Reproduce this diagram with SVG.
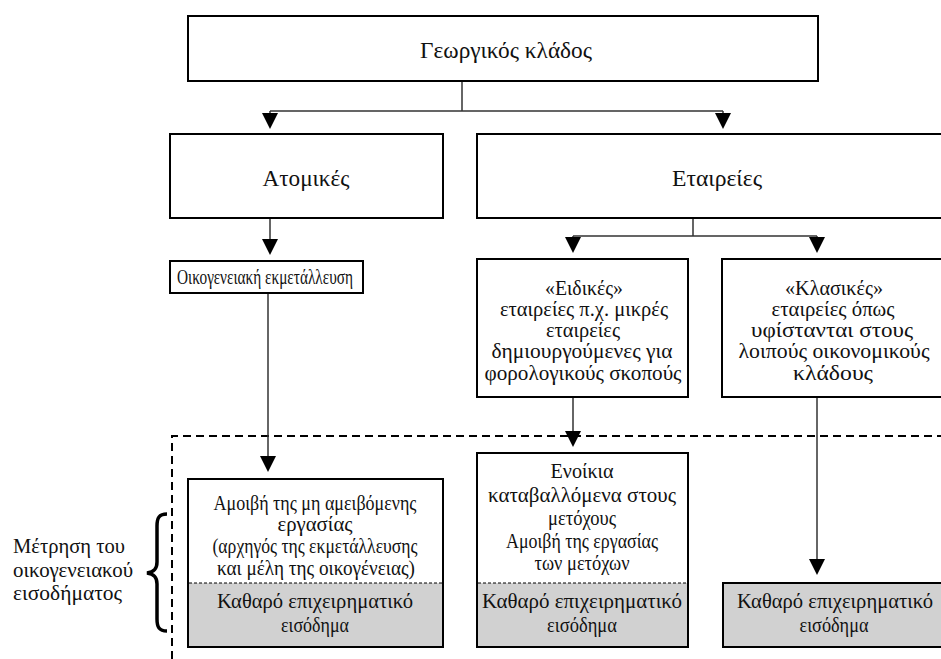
<svg xmlns="http://www.w3.org/2000/svg" width="941" height="659" viewBox="0 0 941 659">
<style>
  .box { fill: #ffffff; stroke: #000000; stroke-width: 2; }
  .grey { fill: #d1d1d1; stroke: none; }
  .sep { stroke: #000000; stroke-width: 1; stroke-dasharray: 3 2; fill: none; }
  .conn { fill: none; stroke: #333333; stroke-width: 1.5; }
  .head { fill: #000000; }
  .zone { fill: none; stroke: #000000; stroke-width: 2; stroke-dasharray: 8 5; }
  .brace { fill: none; stroke: #000000; stroke-width: 3.5; }
  text { font-family: "Liberation Serif", "Times New Roman", serif; font-size: 20px; fill: #111111; text-anchor: middle; }
  .big { font-size: 23px; }
  .left { text-anchor: start; }
</style>
<rect width="941" height="659" fill="#ffffff"/>

<g id="zone">
  <path class="zone" d="M172,659 V436 H941"/>
</g>

<g id="connectors">
  <path class="conn" d="M462,81 V111"/>
  <path class="conn" d="M270,111 H723 M270,111 V114 M723,111 V114"/>
  <path class="head" d="M262,113 L278,113 L270,129 Z"/>
  <path class="head" d="M715,113 L731,113 L723,129 Z"/>

  <path class="conn" d="M270,218 V240"/>
  <path class="head" d="M262,239 L278,239 L270,255 Z"/>

  <path class="conn" d="M693,218 V236 M573,236 H817 M573,236 V238 M817,236 V238"/>
  <path class="head" d="M565,237 L581,237 L573,253 Z"/>
  <path class="head" d="M809,237 L825,237 L817,253 Z"/>

  <path class="conn" d="M268,293 V458"/>
  <path class="head" d="M260,456 L276,456 L268,472 Z"/>

  <path class="conn" d="M573,397 V432"/>
  <path class="head" d="M565,431 L581,431 L573,447 Z"/>

  <path class="conn" d="M817,397 V560"/>
  <path class="head" d="M809,559 L825,559 L817,575 Z"/>
</g>

<g id="n-georgikos">
  <rect class="box" x="188" y="16" width="630" height="65"/>
  <text class="big" x="506" y="58" textLength="172" lengthAdjust="spacingAndGlyphs">Γεωργικός κλάδος</text>
</g>

<g id="n-atomikes">
  <rect class="box" x="170" y="134" width="273" height="84"/>
  <text class="big" x="306" y="186" textLength="87" lengthAdjust="spacingAndGlyphs">Ατομικές</text>
</g>

<g id="n-etaireies">
  <rect class="box" x="477" y="134" width="480" height="84"/>
  <text class="big" x="717" y="186" textLength="90" lengthAdjust="spacingAndGlyphs">Εταιρείες</text>
</g>

<g id="n-oikogeneiaki">
  <rect class="box" x="170" y="261" width="193" height="32"/>
  <text x="265" y="284" font-size="18" textLength="176" lengthAdjust="spacingAndGlyphs">Οικογενειακή εκμετάλλευση</text>
</g>

<g id="n-eidikes">
  <rect class="box" x="477" y="259" width="211" height="138"/>
  <text x="584" y="295" textLength="78" lengthAdjust="spacingAndGlyphs">«Ειδικές»</text>
  <text x="584" y="316" textLength="168" lengthAdjust="spacingAndGlyphs">εταιρείες π.χ. μικρές</text>
  <text x="583" y="337" textLength="74" lengthAdjust="spacingAndGlyphs">εταιρείες</text>
  <text x="582" y="358" textLength="181" lengthAdjust="spacingAndGlyphs">δημιουργούμενες για</text>
  <text x="583" y="380" textLength="197" lengthAdjust="spacingAndGlyphs">φορολογικούς σκοπούς</text>
</g>

<g id="n-klasikes">
  <rect class="box" x="722" y="259" width="240" height="138"/>
  <text x="834" y="295" textLength="98" lengthAdjust="spacingAndGlyphs">«Κλασικές»</text>
  <text x="833" y="316" textLength="123" lengthAdjust="spacingAndGlyphs">εταιρείες όπως</text>
  <text x="832" y="337" textLength="162" lengthAdjust="spacingAndGlyphs">υφίστανται στους</text>
  <text x="834" y="358" textLength="191" lengthAdjust="spacingAndGlyphs">λοιπούς οικονομικούς</text>
  <text x="833" y="380" textLength="80" lengthAdjust="spacingAndGlyphs">κλάδους</text>
</g>

<g id="n-amoivi">
  <rect class="box" x="188" y="479" width="255" height="168"/>
  <rect class="grey" x="189" y="583" width="253" height="63"/>
  <line class="sep" x1="189" y1="583" x2="442" y2="583"/>
  <text x="315" y="510" textLength="203" lengthAdjust="spacingAndGlyphs">Αμοιβή της μη αμειβόμενης</text>
  <text x="315" y="531" textLength="75" lengthAdjust="spacingAndGlyphs">εργασίας</text>
  <text x="315" y="553" textLength="205" lengthAdjust="spacingAndGlyphs">(αρχηγός της εκμετάλλευσης</text>
  <text x="316" y="575" textLength="198" lengthAdjust="spacingAndGlyphs">και μέλη της οικογένειας)</text>
  <text x="315" y="608" textLength="196" lengthAdjust="spacingAndGlyphs">Καθαρό επιχειρηματικό</text>
  <text x="315" y="632" textLength="68" lengthAdjust="spacingAndGlyphs">εισόδημα</text>
</g>

<g id="n-enoikia">
  <rect class="box" x="477" y="453" width="211" height="194"/>
  <rect class="grey" x="478" y="583" width="209" height="63"/>
  <line class="sep" x1="478" y1="583" x2="687" y2="583"/>
  <text x="582" y="478" textLength="63" lengthAdjust="spacingAndGlyphs">Ενοίκια</text>
  <text x="582" y="502" textLength="188" lengthAdjust="spacingAndGlyphs">καταβαλλόμενα στους</text>
  <text x="582" y="525" textLength="68" lengthAdjust="spacingAndGlyphs">μετόχους</text>
  <text x="582" y="548" textLength="152" lengthAdjust="spacingAndGlyphs">Αμοιβή της εργασίας</text>
  <text x="582" y="570" textLength="95" lengthAdjust="spacingAndGlyphs">των μετόχων</text>
  <text x="582" y="608" textLength="200" lengthAdjust="spacingAndGlyphs">Καθαρό επιχειρηματικό</text>
  <text x="582" y="632" textLength="70" lengthAdjust="spacingAndGlyphs">εισόδημα</text>
</g>

<g id="n-kathero">
  <rect class="box" x="723" y="583" width="224" height="64" style="fill:#d1d1d1"/>
  <text x="835" y="608" textLength="196" lengthAdjust="spacingAndGlyphs">Καθαρό επιχειρηματικό</text>
  <text x="834" y="632" textLength="69" lengthAdjust="spacingAndGlyphs">εισόδημα</text>
</g>

<g id="n-metrisi">
  <text class="left" x="13" y="553" textLength="112" lengthAdjust="spacingAndGlyphs">Μέτρηση του</text>
  <text class="left" x="13" y="577" textLength="120" lengthAdjust="spacingAndGlyphs">οικογενειακού</text>
  <text class="left" x="13" y="600" textLength="109" lengthAdjust="spacingAndGlyphs">εισοδήματος</text>
  <path class="brace" d="M167,514 C159,514 157,518 157,526 L157,562 C157,569 154,572 147,573 C154,574 157,577 157,584 L157,619 C157,627 159,631 167,631"/>
</g>
</svg>
